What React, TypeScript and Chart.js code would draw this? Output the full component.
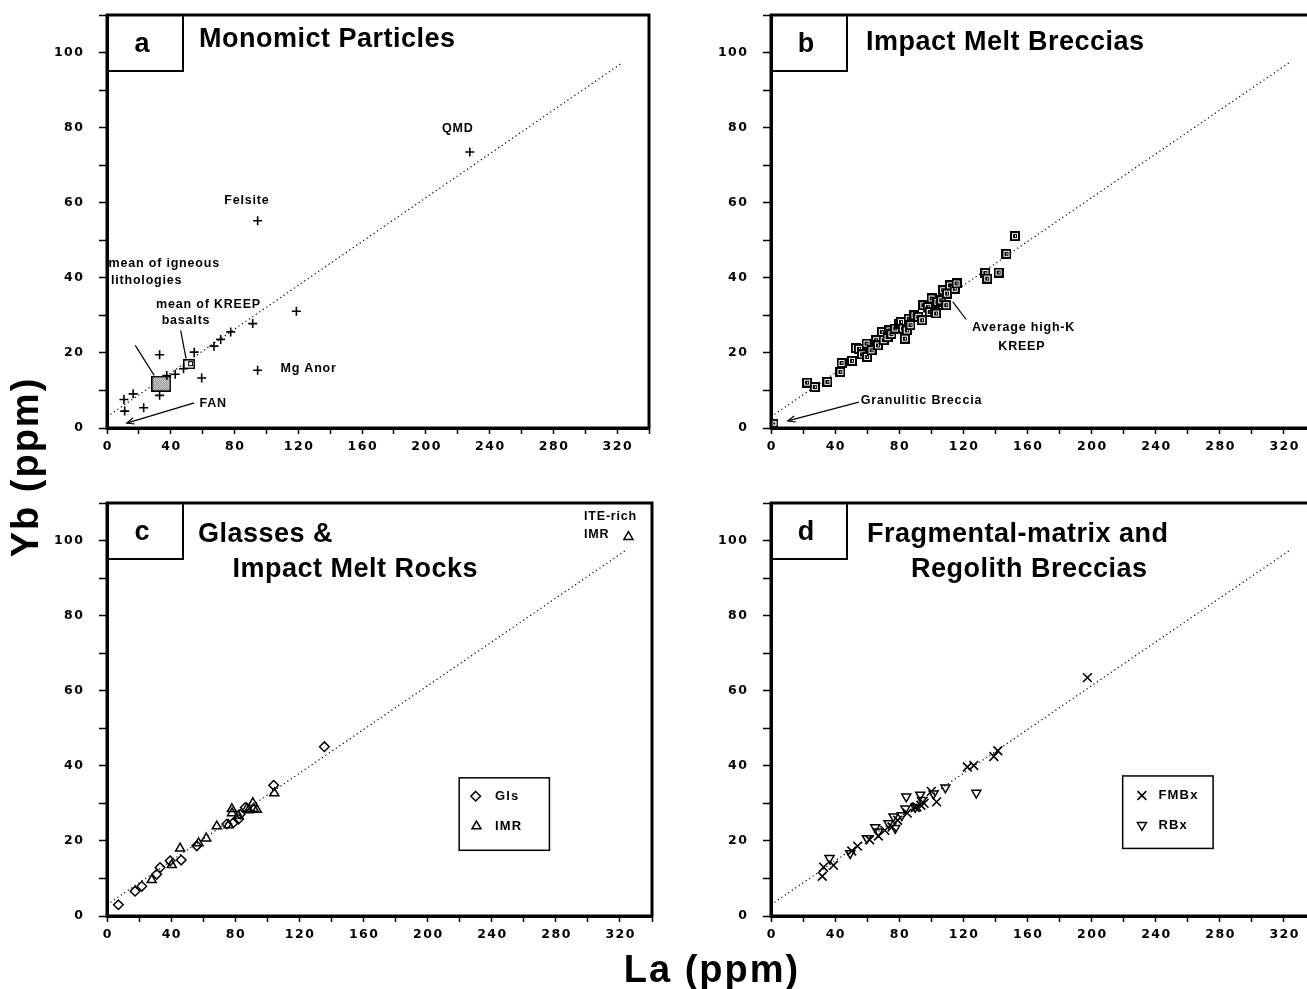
import React, { useEffect, useRef } from 'react';
import { Chart, registerables } from 'chart.js';

Chart.register(...registerables);

const FONT = '"Liberation Sans", Arial, Helvetica, sans-serif';
const TICK_FONT = '"DejaVu Sans", "Liberation Sans", Arial, sans-serif';

// ---------------- data ----------------
const xMax = 340;
const yMax = 110;
const xTickStep = 20;
const xLabelStep = 40;
const yTickStep = 10;
const yLabelStep = 20;

// reference line (dotted)
const refLineLa = [0, 323];
const refLineYb = [3, 97.2];

// (a) Monomict particles
const monoLa = [10.6, 11.1, 16.4, 23, 33, 33, 37.5, 42.8, 48, 54.7, 59.4, 67.1, 71.3, 77.6, 91.4, 94.5, 94.5, 118.8, 227.6];
const monoYb = [7.6, 4.5, 9.1, 5.4, 19.5, 8.7, 14.0, 14.3, 15.8, 20.2, 13.3, 21.8, 23.6, 25.6, 27.8, 55.2, 15.4, 31.1, 73.5];
const meanIgneousLa = [34];
const meanIgneousYb = [11.8];
const meanKreepLa = [51.5];
const meanKreepYb = [17];

// (b) Impact melt breccias
const imbLa = [22.5, 27.3, 35.2, 43.3, 44, 50.5, 52.9, 54.8, 56.7, 59.6, 60, 62.7, 65.6, 66.7, 69.1, 70.3, 72.7, 73.9, 75.1, 77.5, 79.9, 81.1, 82.3, 83.5, 84.7, 85.9, 87, 89.5, 91.9, 94.3, 95, 97.8, 99, 100.2, 102.2, 103, 103.8, 106.2, 107.4, 109.3, 109.8, 111.7, 114.6, 115.8, 133.7, 134.9, 142, 146.9, 152.2];
const imbYb = [12.1, 10.9, 12.3, 14.9, 17.3, 17.9, 21.3, 21.1, 19.6, 22.5, 18.9, 20.7, 23.4, 22, 25.6, 23.4, 24.2, 26, 25, 26.5, 27.8, 28.2, 26.5, 23.8, 26, 29.1, 27.4, 30, 29.6, 28.7, 32.7, 32.2, 30.9, 34.5, 30.9, 30.5, 33.6, 34, 36.7, 32.7, 35.8, 38, 37.1, 38.5, 41.3, 39.8, 41.4, 46.4, 51.1];
const granulLa = [2];
const granulYb = [1.2];

// (c) Glasses & impact melt rocks
const glsLa = [7.1, 17.5, 21.7, 31, 33.1, 39.4, 46.3, 56, 74.8, 79, 82, 83.1, 86.3, 104, 135.6];
const glsYb = [3.0, 6.6, 7.9, 11.1, 12.9, 14.7, 14.9, 18.7, 24.5, 24.9, 25.8, 27.1, 28.9, 34.8, 45.1];
const imrLa = [27.9, 40.4, 45.6, 57.1, 61.9, 68.5, 75.8, 77.9, 78, 82, 87.3, 88.4, 91, 91.5, 93.5, 104.4];
const imrYb = [9.6, 13.6, 18.0, 19.4, 20.7, 23.9, 24.2, 28.5, 27.4, 26.7, 28.6, 28.2, 30.1, 28.6, 28.3, 32.7];
const iteImrLa = [325.3];
const iteImrYb = [101];

// (d) Fragmental-matrix and regolith breccias
const fmbLa = [32, 32.8, 39, 50.4, 54, 61.5, 67, 71, 75.5, 79, 85, 90, 91, 93.5, 95.5, 100, 103.3, 122.5, 126.5, 139, 141.5, 197.4];
const fmbYb = [10.6, 13, 13.5, 17.3, 18.6, 20.3, 21.3, 22.8, 23.7, 25.5, 27.4, 28.9, 29.1, 29.5, 30, 33.2, 30.4, 39.7, 40.1, 42.5, 44, 63.5];
const rbxLa = [36.5, 49.4, 59.8, 65, 67, 73.3, 76.4, 77.5, 81.6, 83.8, 84.4, 90, 93.1, 94.2, 101.4, 108.8, 128.1];
const rbxYb = [15.4, 16.7, 20.7, 23.6, 22.5, 24.7, 26.5, 23.4, 26.8, 28.6, 31.8, 29, 32.3, 30.9, 32.6, 34.2, 32.8];

// ---------------- helpers ----------------
type Pt = { x: number; y: number };
const toPts = (xs: number[], ys: number[]): Pt[] => xs.map((x, i) => ({ x, y: ys[i] }));

function offscreen(w: number, h: number, draw: (g: CanvasRenderingContext2D) => void) {
  const c = document.createElement('canvas');
  c.width = w;
  c.height = h;
  draw(c.getContext('2d') as CanvasRenderingContext2D);
  return c;
}

const squareImg = () =>
  offscreen(10, 10, (g) => {
    g.fillStyle = '#000';
    g.fillRect(0, 0, 10, 10);
    g.fillStyle = '#fff';
    g.fillRect(2, 2, 6, 6);
    g.fillStyle = '#000';
    g.fillRect(3, 3, 4, 4);
    g.fillStyle = '#fff';
    g.fillRect(5, 4, 1, 2);
  });

const granulImg = () =>
  offscreen(8, 8, (g) => {
    g.fillStyle = '#fff';
    g.fillRect(0, 0, 8, 8);
    g.strokeStyle = '#000';
    g.lineWidth = 1.5;
    g.strokeRect(0.75, 0.75, 6.5, 6.5);
    g.fillStyle = '#000';
    g.fillRect(3, 3, 2, 2);
  });

const stippleImg = () =>
  offscreen(20, 16, (g) => {
    g.fillStyle = '#fff';
    g.fillRect(0, 0, 20, 16);
    g.fillStyle = '#666';
    for (let i = 0; i < 20; i++) for (let j = 0; j < 16; j++) if ((i + j) % 2 === 0) g.fillRect(i, j, 1, 1);
    g.strokeStyle = '#000';
    g.lineWidth = 1.5;
    g.strokeRect(0.75, 0.75, 18.5, 14.5);
  });

const kreepImg = () =>
  offscreen(12, 10, (g) => {
    g.fillStyle = '#fff';
    g.fillRect(0, 0, 12, 10);
    g.strokeStyle = '#000';
    g.lineWidth = 1.5;
    g.strokeRect(0.75, 0.75, 10.5, 8.5);
    g.lineWidth = 1;
    g.strokeRect(5.5, 2.5, 4, 4);
  });

type TextAnn = { s: string; x: number; y: number; align?: CanvasTextAlign };
type LineAnn = { x1: number; y1: number; x2: number; y2: number; arrow?: boolean };
type Sym = 'diamond' | 'triUp' | 'triDown' | 'xcross';
type LegendItem = { sym: Sym; x: number; y: number; label: string; lx: number };
type Spec = {
  letter: string;
  titles: { s: string; dx: number; dy: number }[];
  texts: TextAnn[];
  lines: LineAnn[];
  legend?: { x1: number; y1: number; x2: number; y2: number; items: LegendItem[] };
};

function drawSym(g: CanvasRenderingContext2D, sym: Sym, x: number, y: number) {
  g.beginPath();
  if (sym === 'diamond') {
    const r = 4.8;
    g.moveTo(x, y - r);
    g.lineTo(x + r, y);
    g.lineTo(x, y + r);
    g.lineTo(x - r, y);
    g.closePath();
  } else if (sym === 'triUp' || sym === 'triDown') {
    const r = 5.2;
    const s = sym === 'triUp' ? 1 : -1;
    g.moveTo(x, y - s * r);
    g.lineTo(x + r * 0.866, y + s * r * 0.5);
    g.lineTo(x - r * 0.866, y + s * r * 0.5);
    g.closePath();
  } else {
    const r = 6.2 * 0.707;
    g.moveTo(x - r, y - r);
    g.lineTo(x + r, y + r);
    g.moveTo(x + r, y - r);
    g.lineTo(x - r, y + r);
  }
  g.stroke();
}

function decorPlugin(spec: Spec) {
  return {
    id: 'decor',
    beforeDraw(chart: any) {
      chart.ctx.letterSpacing = '1.5px';
    },
    beforeDatasetsDraw(chart: any) {
      chart.ctx.letterSpacing = '0px';
    },
    afterDatasetsDraw(chart: any) {
      const g: any = chart.ctx;
      const ca = chart.chartArea;
      const X = (v: number) => chart.scales.x.getPixelForValue(v);
      const Y = (v: number) => chart.scales.y.getPixelForValue(v);
      g.save();
      g.strokeStyle = '#000';
      g.fillStyle = '#000';
      g.lineWidth = 3;
      g.strokeRect(ca.left, ca.top, ca.right - ca.left, ca.bottom - ca.top);

      // letter box
      g.lineWidth = 2;
      g.beginPath();
      g.moveTo(ca.left, ca.top + 56);
      g.lineTo(ca.left + 76, ca.top + 56);
      g.lineTo(ca.left + 76, ca.top);
      g.stroke();
      g.font = `bold 27px ${FONT}`;
      g.textBaseline = 'alphabetic';
      g.textAlign = 'center';
      g.letterSpacing = '0px';
      g.fillText(spec.letter, ca.left + 35, ca.top + 37);

      // titles
      g.textAlign = 'left';
      g.letterSpacing = '0.5px';
      for (const t of spec.titles) g.fillText(t.s, ca.left + t.dx, ca.top + t.dy);

      // annotation texts
      g.font = `bold 12.5px ${FONT}`;
      g.letterSpacing = '0.8px';
      g.textBaseline = 'middle';
      for (const t of spec.texts) {
        g.textAlign = t.align ?? 'left';
        g.fillText(t.s, X(t.x), Y(t.y));
      }

      // leader lines and arrows
      g.lineWidth = 1.2;
      for (const l of spec.lines) {
        const x1 = X(l.x1), y1 = Y(l.y1), x2 = X(l.x2), y2 = Y(l.y2);
        g.beginPath();
        g.moveTo(x1, y1);
        g.lineTo(x2, y2);
        g.stroke();
        if (l.arrow) {
          const a = Math.atan2(y2 - y1, x2 - x1);
          const L = 8;
          const w = 0.4;
          g.beginPath();
          g.moveTo(x2 - L * Math.cos(a - w), y2 - L * Math.sin(a - w));
          g.lineTo(x2, y2);
          g.lineTo(x2 - L * Math.cos(a + w), y2 - L * Math.sin(a + w));
          g.stroke();
        }
      }

      // legend
      if (spec.legend) {
        const lg = spec.legend;
        g.lineWidth = 1.5;
        g.strokeRect(X(lg.x1), Y(lg.y2), X(lg.x2) - X(lg.x1), Y(lg.y1) - Y(lg.y2));
        g.font = `bold 13px ${FONT}`;
        g.letterSpacing = '1.2px';
        g.textAlign = 'left';
        for (const it of lg.items) {
          g.lineWidth = 1.5;
          drawSym(g, it.sym, X(it.x), Y(it.y));
          g.fillText(it.label, X(it.lx), Y(it.y));
        }
      }
      g.restore();
    },
  };
}

const tickFont = { family: TICK_FONT, size: 12.5, weight: 'bold' as const };

function makeConfig(datasets: any[], spec: Spec) {
  const refLine = {
    data: toPts(refLineLa, refLineYb),
    showLine: true,
    borderColor: '#000',
    borderWidth: 1.2,
    borderDash: [1.2, 3],
    pointRadius: 0,
    fill: false,
    order: 10,
  };
  return {
    type: 'scatter' as const,
    data: { datasets: [...datasets, refLine] },
    options: {
      responsive: false,
      animation: false as const,
      devicePixelRatio: 1,
      events: [],
      layout: { padding: { left: 0, top: 15, right: 8, bottom: 0 } },
      plugins: { legend: { display: false }, tooltip: { enabled: false } },
      scales: {
        x: {
          type: 'linear' as const,
          position: 'bottom' as const,
          min: 0,
          max: xMax,
          afterFit: (s: any) => {
            s.height = 42;
            s.paddingLeft = 0;
            s.paddingRight = 0;
          },
          ticks: {
            stepSize: xTickStep,
            autoSkip: false,
            maxRotation: 0,
            minRotation: 0,
            padding: 5,
            labelOffset: 0.75,
            color: '#000',
            font: tickFont,
            callback: (v: any) => (Number(v) % xLabelStep === 0 ? String(v) : ''),
          },
          grid: { drawOnChartArea: false, drawTicks: true, tickLength: 6, tickWidth: 1.5, tickColor: '#000', color: '#000' },
          border: { display: true, width: 3, color: '#000' },
        },
        y: {
          type: 'linear' as const,
          position: 'left' as const,
          min: 0,
          max: yMax,
          afterFit: (s: any) => {
            s.width = 107;
            s.paddingTop = 0;
            s.paddingBottom = 0;
          },
          ticks: {
            stepSize: yTickStep,
            autoSkip: false,
            padding: 14.5,
            color: '#000',
            font: tickFont,
            callback: (v: any) => (Number(v) % yLabelStep === 0 ? String(v) : ''),
          },
          grid: { drawOnChartArea: false, drawTicks: true, tickLength: 8, tickWidth: 1.5, tickColor: '#000', color: '#000' },
          border: { display: true, width: 3, color: '#000' },
        },
      },
    },
    plugins: [decorPlugin(spec)],
  };
}

const black = '#000';
const clear = 'rgba(0,0,0,0)';

function buildA() {
  return makeConfig(
    [
      { data: toPts(monoLa, monoYb), pointStyle: 'cross', pointRadius: 4.5, borderWidth: 1.6, borderColor: black, backgroundColor: clear },
      { data: toPts(meanIgneousLa, meanIgneousYb), pointStyle: stippleImg(), pointRadius: 10, clip: false },
      { data: toPts(meanKreepLa, meanKreepYb), pointStyle: kreepImg(), pointRadius: 6, clip: false },
    ],
    {
      letter: 'a',
      titles: [{ s: 'Monomict Particles', dx: 92, dy: 32 }],
      texts: [
        { s: 'QMD', x: 220, y: 79.7, align: 'center' },
        { s: 'Felsite', x: 87.7, y: 60.6, align: 'center' },
        { s: 'mean of igneous', x: 1, y: 43.8 },
        { s: 'lithologies', x: 2.5, y: 39.3 },
        { s: 'mean of KREEP', x: 30.8, y: 32.9 },
        { s: 'basalts', x: 34.3, y: 28.5 },
        { s: 'Mg Anor', x: 108.8, y: 15.8 },
        { s: 'FAN', x: 58, y: 6.5 },
      ],
      lines: [
        { x1: 17.7, y1: 22, x2: 29.6, y2: 14 },
        { x1: 46.2, y1: 26, x2: 49.6, y2: 18.5 },
        { x1: 54.7, y1: 6.7, x2: 12.4, y2: 1.3, arrow: true },
      ],
    }
  );
}

function buildB() {
  return makeConfig(
    [
      { data: toPts(imbLa, imbYb), pointStyle: squareImg(), pointRadius: 5 },
      { data: toPts(granulLa, granulYb), pointStyle: granulImg(), pointRadius: 5, clip: false },
    ],
    {
      letter: 'b',
      titles: [{ s: 'Impact Melt Breccias', dx: 95, dy: 35 }],
      texts: [
        { s: 'Average high-K', x: 125.4, y: 26.7 },
        { s: 'KREEP', x: 156.5, y: 21.8, align: 'center' },
        { s: 'Granulitic Breccia', x: 56, y: 7.4 },
      ],
      lines: [
        { x1: 121.8, y1: 28.9, x2: 113.4, y2: 33.6 },
        { x1: 54.8, y1: 6.9, x2: 10.5, y2: 1.9, arrow: true },
      ],
    }
  );
}

function buildC() {
  return makeConfig(
    [
      { data: toPts(glsLa, glsYb), pointStyle: 'rectRot', pointRadius: 4.8, borderWidth: 1.5, borderColor: black, backgroundColor: clear },
      { data: toPts(imrLa, imrYb), pointStyle: 'triangle', pointRadius: 5.2, borderWidth: 1.5, borderColor: black, backgroundColor: clear },
      { data: toPts(iteImrLa, iteImrYb), pointStyle: 'triangle', pointRadius: 5.2, borderWidth: 1.5, borderColor: black, backgroundColor: clear },
    ],
    {
      letter: 'c',
      titles: [
        { s: 'Glasses &', dx: 91, dy: 38.7 },
        { s: 'Impact Melt Rocks', dx: 125.5, dy: 74 },
      ],
      texts: [
        { s: 'ITE-rich', x: 297.6, y: 106.4 },
        { s: 'IMR', x: 297.6, y: 101.5 },
      ],
      lines: [],
      legend: {
        x1: 219.7,
        y1: 17.5,
        x2: 276,
        y2: 36.8,
        items: [
          { sym: 'diamond', x: 230, y: 31.9, label: 'Gls', lx: 242 },
          { sym: 'triUp', x: 230.5, y: 23.9, label: 'IMR', lx: 242 },
        ],
      },
    }
  );
}

function buildD() {
  return makeConfig(
    [
      { data: toPts(fmbLa, fmbYb), pointStyle: 'crossRot', pointRadius: 6.2, borderWidth: 1.6, borderColor: black, backgroundColor: clear },
      { data: toPts(rbxLa, rbxYb), pointStyle: 'triangle', rotation: 180, pointRadius: 5.2, borderWidth: 1.5, borderColor: black, backgroundColor: clear },
    ],
    {
      letter: 'd',
      titles: [
        { s: 'Fragmental-matrix and', dx: 96, dy: 38.7 },
        { s: 'Regolith Breccias', dx: 140, dy: 74 },
      ],
      texts: [],
      lines: [],
      legend: {
        x1: 219.4,
        y1: 18,
        x2: 275.8,
        y2: 37.3,
        items: [
          { sym: 'xcross', x: 231.4, y: 32.1, label: 'FMBx', lx: 241.7 },
          { sym: 'triDown', x: 231.4, y: 24.2, label: 'RBx', lx: 241.7 },
        ],
      },
    }
  );
}

function PanelChart({ left, top, build }: { left: number; top: number; build: () => any }) {
  const ref = useRef<HTMLCanvasElement>(null);
  useEffect(() => {
    const chart = new Chart(ref.current as HTMLCanvasElement, build());
    return () => chart.destroy();
  }, []);
  return (
    <canvas
      ref={ref}
      width={660}
      height={470}
      style={{ position: 'absolute', left, top, width: 660, height: 470 }}
    />
  );
}

export default function App() {
  const axisTitle: React.CSSProperties = {
    position: 'absolute',
    fontFamily: FONT,
    fontWeight: 'bold',
    fontSize: 38,
    letterSpacing: '2px',
    textAlign: 'center',
    whiteSpace: 'nowrap',
    color: '#000',
  };
  return (
    <div
      style={{
        position: 'fixed',
        left: 0,
        top: 0,
        width: 1307,
        height: 989,
        overflow: 'hidden',
        background: '#fff',
      }}
    >
      <PanelChart left={0} top={0} build={buildA} />
      <PanelChart left={664} top={0} build={buildB} />
      <PanelChart left={0} top={488} build={buildC} />
      <PanelChart left={664} top={488} build={buildD} />
      <div
        style={{
          ...axisTitle,
          left: 25 - 150,
          top: 467 - 20,
          width: 300,
          height: 40,
          lineHeight: '40px',
          transform: 'rotate(-90deg)',
        }}
      >
        Yb (ppm)
      </div>
      <div style={{ ...axisTitle, left: 512, top: 950, width: 400, height: 38, lineHeight: '38px' }}>La (ppm)</div>
    </div>
  );
}
